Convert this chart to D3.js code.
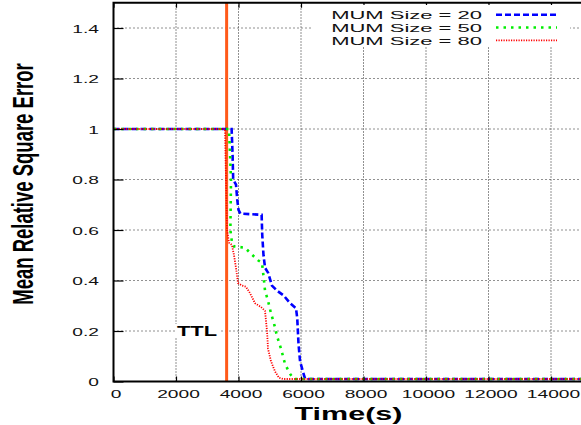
<!DOCTYPE html>
<html>
<head>
<meta charset="utf-8">
<script src="https://cdn.jsdelivr.net/npm/d3@7"></script>
<style>
    body { margin: 0; background: #fff; }
    svg { display: block; font-family: "Liberation Sans", Arial, sans-serif; }
    .grid line { stroke: #222; stroke-width: 1; }
    .axis text { font-size: 11.5px; fill: #111; }
    .axis line { stroke: #000; stroke-width: 1.2; }
</style>
</head>
<body>
<script>
// size of svg (plot goes a bit past the right edge, like the original)
var fullWidth = 581;
var fullHeight = 425;

// data: time (s) and mean relative square error
var time20 = [0, 3780, 3810, 3830, 3920, 3960, 4000, 4060, 4740, 4760, 4800, 4850, 4950, 5070,
              5230, 5450, 5650, 5840, 5880, 5920, 5970, 6060, 6120, 6160, 15000];
var error20 = [1, 1, 0.9, 0.8, 0.78, 0.72, 0.68, 0.665, 0.66, 0.58, 0.5, 0.45, 0.43, 0.38,
               0.36, 0.34, 0.31, 0.29, 0.25, 0.15, 0.08, 0.04, 0.015, 0.01, 0.01];

var time50 = [0, 3696, 3730, 3760, 3740, 3792, 3856, 4208, 4368, 4624, 4752, 4816, 4848, 4944,
              5040, 5136, 5232, 5360, 5488, 5648, 5776, 15000];
var error50 = [1, 1, 0.9, 0.8, 0.6, 0.55, 0.535, 0.53, 0.51, 0.48, 0.47, 0.4, 0.36, 0.32,
               0.27, 0.23, 0.18, 0.13, 0.07, 0.03, 0.01, 0.01];

var time80 = [0, 3568, 3600, 3632, 3696, 3792, 3856, 3920, 3984, 4112, 4240, 4368, 4528, 4720,
              4848, 4912, 4944, 5040, 5168, 5296, 5424, 15000];
var error80 = [1, 1, 0.8, 0.6, 0.55, 0.54, 0.5, 0.45, 0.39, 0.38, 0.375, 0.35, 0.31, 0.295,
               0.28, 0.2, 0.13, 0.08, 0.04, 0.015, 0.01, 0.01];

var seriesNames = ["MUM Size = 20", "MUM Size = 50", "MUM Size = 80"];
var ttlTime = 3620;

var xTicks = [0, 2000, 4000, 6000, 8000, 10000, 12000, 14000];
var yTicks = [0, 0.2, 0.4, 0.6, 0.8, 1, 1.2, 1.4];

// horizontal stretch of all text in the original picture
var stretch = 1.67;

window.onload = function() {

    var svg = d3.select("body")
                .append("svg")
                .attr("width", fullWidth)
                .attr("height", fullHeight);

    var xScale = d3.scaleLinear().domain([0, 15000]).range([113.5, 582.25]);
    var yScale = d3.scaleLinear().domain([0, 1.5]).range([381.5, 2.75]);

    var top = yScale(1.5), bottom = yScale(0), left = xScale(0);

    // dotted grid
    var grid = svg.append("g").attr("class", "grid");
    grid.selectAll(".vgrid")
        .data(xTicks.slice(1))
        .enter()
        .append("line")
        .attr("x1", function(d) { return xScale(d); })
        .attr("x2", function(d) { return xScale(d); })
        .attr("y1", bottom)
        .attr("y2", top)
        .style("stroke-dasharray", "1,2");
    grid.selectAll(".hgrid")
        .data(yTicks.slice(1))
        .enter()
        .append("line")
        .attr("x1", left)
        .attr("x2", fullWidth + 5)
        .attr("y1", function(d) { return yScale(d); })
        .attr("y2", function(d) { return yScale(d); })
        .style("stroke-dasharray", "1,3");

    // TTL marker
    svg.append("line")
       .attr("x1", xScale(ttlTime))
       .attr("x2", xScale(ttlTime))
       .attr("y1", bottom)
       .attr("y2", top)
       .style("stroke", "#ff5a1a")
       .style("stroke-width", 3);

    // series lines
    var styles = [
        {color: "#0000ff", width: 2.6, dash: "6,3"},
        {color: "#00ee00", width: 2.6, dash: "2.5,5"},
        {color: "#ff0000", width: 1.8, dash: "1.2,1.3"}
    ];
    var series = [
        d3.zip(time20, error20),
        d3.zip(time50, error50),
        d3.zip(time80, error80)
    ];

    var line = d3.line()
                 .x(function(d) { return xScale(d[0]); })
                 .y(function(d) { return yScale(d[1]); });

    series.forEach(function(s, i) {
        svg.append("path")
           .datum(s)
           .attr("d", line)
           .style("fill", "none")
           .style("stroke", styles[i].color)
           .style("stroke-width", styles[i].width)
           .style("stroke-dasharray", styles[i].dash);
    });

    // TTL label on white box
    svg.append("rect")
       .attr("x", 175).attr("y", 324)
       .attr("width", 44).attr("height", 14)
       .style("fill", "#fff");
    svg.append("text")
       .attr("transform", "translate(177,336) scale(1.56,1)")
       .style("font-size", "14px")
       .style("font-weight", "bold")
       .text("TTL");

    // axes with inward ticks
    var xAxis = d3.axisBottom(xScale).tickValues(xTicks).tickSize(-5).tickFormat(String);
    var yAxis = d3.axisLeft(yScale).tickValues(yTicks).tickSize(-10).tickFormat(String);

    var gx = svg.append("g")
                .attr("class", "axis")
                .attr("transform", "translate(0," + bottom + ")")
                .call(xAxis);
    gx.select(".domain").remove();
    gx.selectAll("text")
      .attr("x", 1.2)
      .attr("y", 12.5)
      .attr("dy", "0.36em")
      .attr("transform", "scale(" + stretch + ",1)");

    var gy = svg.append("g")
                .attr("class", "axis")
                .attr("transform", "translate(" + left + ",0)")
                .call(yAxis);
    gy.select(".domain").remove();
    gy.selectAll("text")
      .attr("x", -14.5 / stretch)
      .attr("dy", "0.36em")
      .attr("transform", "scale(" + stretch + ",1)");

    var gt = svg.append("g")
                .attr("class", "axis")
                .attr("transform", "translate(0," + top + ")")
                .call(d3.axisTop(xScale).tickValues(xTicks).tickSize(-5).tickFormat(""));
    gt.select(".domain").remove();

    // frame
    svg.append("path")
       .attr("d", "M" + (fullWidth + 5) + "," + top + "H" + left + "V" + bottom + "H" + (fullWidth + 5))
       .style("fill", "none")
       .style("stroke", "#000")
       .style("stroke-width", 2);

    // legend with opaque box
    svg.append("rect")
       .attr("x", 311).attr("y", 5)
       .attr("width", 259).attr("height", 42)
       .style("fill", "#fff");

    var legend = svg.selectAll(".legend")
                    .data(seriesNames)
                    .enter()
                    .append("g")
                    .attr("class", "legend")
                    .attr("transform", function(d, i) {
                        return "translate(0," + (19 + i * 12.8) + ")";
                    });

    // smaller font, stretched wider, so the rows do not collide
    legend.append("text")
          .attr("transform", "translate(482,0) scale(2.0,1)")
          .style("text-anchor", "end")
          .style("font-size", "11px")
          .style("fill", "#111")
          .text(function(d) { return d; });

    legend.append("line")
          .attr("x1", 496).attr("x2", 557)
          .attr("y1", -4.3).attr("y2", -4.3)
          .style("stroke", function(d, i) { return styles[i].color; })
          .style("stroke-width", function(d, i) { return styles[i].width; })
          .style("stroke-dasharray", function(d, i) { return styles[i].dash; });

    // axis titles
    svg.append("text")
       .attr("transform", "translate(348.5,420) scale(" + stretch + ",1)")
       .style("text-anchor", "middle")
       .style("font-size", "18.3px")
       .style("font-weight", "bold")
       .text("Time(s)");

    svg.append("text")
       .attr("transform", "translate(33.3,184) scale(1.6,1) rotate(-90)")
       .style("text-anchor", "middle")
       .style("font-size", "18.5px")
       .style("font-weight", "bold")
       .text("Mean Relative Square Error");
};
</script>
</body>
</html>
